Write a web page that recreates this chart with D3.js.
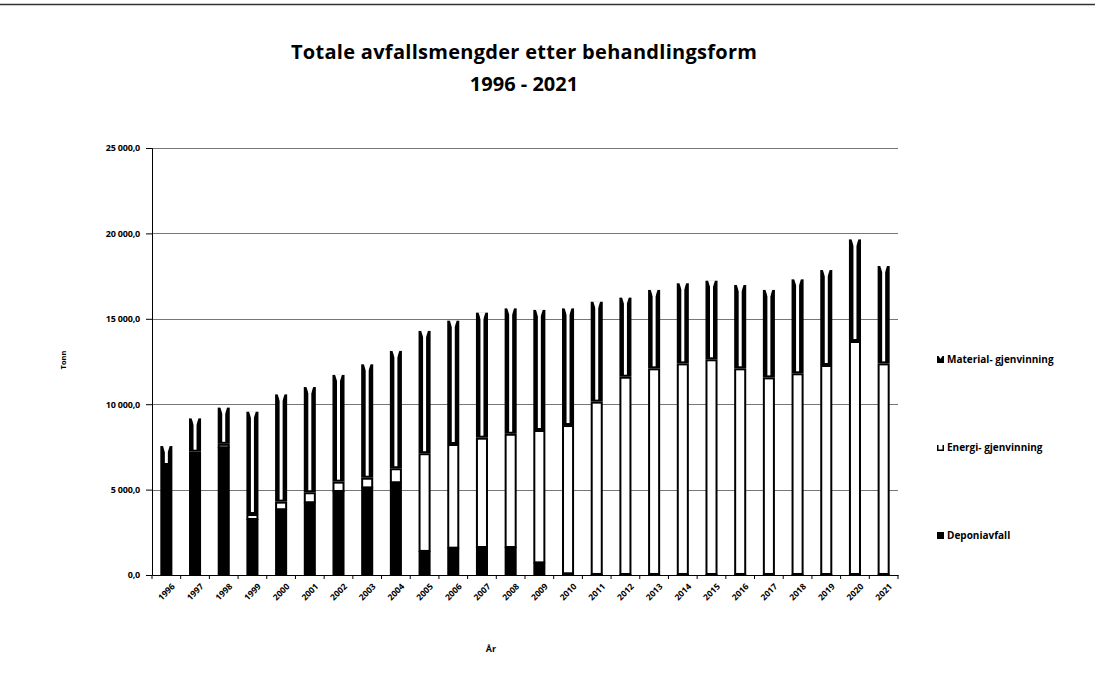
<!DOCTYPE html>
<html>
<head>
<meta charset="utf-8">
<script src="https://cdn.jsdelivr.net/npm/d3@7"></script>
<style>
  body { margin: 0; background: #fff; }
  text { font-family: "Open Sans", "DejaVu Sans", sans-serif; font-weight: bold; fill: #000; }
</style>
</head>
<body>
<div id="chart"></div>
<script>
const years = ["1996","1997","1998","1999","2000","2001","2002","2003","2004","2005","2006","2007","2008","2009","2010","2011","2012","2013","2014","2015","2016","2017","2018","2019","2020","2021"];
const deponiavfall = [6440,7220,7480,3280,3850,4260,4920,5130,5430,1410,1600,1640,1640,740,100,60,60,60,60,60,60,60,60,60,60,60];
const energigjenvinning = [0,0,200,290,445,585,545,565,820,5720,6070,6400,6630,7750,8680,10090,11550,12040,12330,12570,12040,11510,11750,12235,13640,12330];
const materialgjenvinning = [1110,1950,2120,5990,6280,6160,6250,6640,6870,7160,7220,7320,7340,7030,6830,5850,4630,4590,4690,4600,4880,5120,5500,5560,5950,5700];
const seriesNames = ["Deponiavfall", "Energi- gjenvinning", "Material- gjenvinning"];
const yTicks = [0, 5000, 10000, 15000, 20000, 25000];

const width = 1095, height = 683;
const margin = {left: 152, right: 197, top: 148, bottom: 108};

const svg = d3.select("#chart").append("svg")
    .attr("width", width)
    .attr("height", height);

// top rule
svg.append("line")
    .attr("x1", 0).attr("x2", width)
    .attr("y1", 4.5).attr("y2", 4.5)
    .attr("stroke", "#333").attr("stroke-width", 1.5);

const x = d3.scaleBand()
    .domain(years)
    .range([margin.left, width - margin.right])
    .paddingInner(0.58)
    .paddingOuter(0.29);

const y = d3.scaleLinear()
    .domain([0, 25000])
    .range([height - margin.bottom, margin.top]);

const nb = d3.formatLocale({decimal: ",", thousands: "\u00a0", grouping: [3], currency: ["", ""]});
const fmt = nb.format(",.1f");

// gridlines
svg.append("g")
    .selectAll("line")
    .data(yTicks.slice(1))
    .join("line")
    .attr("x1", margin.left).attr("x2", width - margin.right)
    .attr("y1", d => Math.round(y(d)) + 0.5).attr("y2", d => Math.round(y(d)) + 0.5)
    .attr("stroke", "#777").attr("stroke-width", 1);

const yAxis = d3.axisLeft(y)
    .tickValues(yTicks)
    .tickFormat(fmt)
    .tickSize(6)
    .tickPadding(6);

const gY = svg.append("g")
    .attr("transform", `translate(${margin.left},0)`)
    .call(yAxis);
gY.select(".domain").attr("stroke", "#000");
gY.selectAll(".tick line").attr("stroke", "#000");
gY.selectAll(".tick text").style("font-size", "9px").attr("letter-spacing", "-0.2");

const xAxis = d3.axisBottom(x).tickSize(0).tickSizeOuter(0);
const gX = svg.append("g")
    .attr("transform", `translate(0,${height - margin.bottom})`)
    .call(xAxis);
gX.select(".domain").attr("stroke", "#000");
gX.selectAll(".tick text")
    .style("font-size", "8.5px")
    .attr("text-anchor", "end")
    .attr("dy", 0)
    .attr("transform", "translate(7,10) rotate(-45)");

// ticks between categories
const step = x.step();
svg.append("g")
    .selectAll("line")
    .data(d3.range(years.length + 1))
    .join("line")
    .attr("x1", i => margin.left + i * step)
    .attr("x2", i => margin.left + i * step)
    .attr("y1", height - margin.bottom)
    .attr("y2", height - margin.bottom + 4)
    .attr("stroke", "#000");

// bars
const bw = x.bandwidth();
const bars = svg.append("g");
years.forEach((yr, i) => {
    const x0 = x(yr);
    const cx = x0 + bw / 2;
    const d0 = deponiavfall[i];
    const e1 = d0 + energigjenvinning[i];
    const m1 = e1 + materialgjenvinning[i];

    // Deponiavfall
    bars.append("rect")
        .attr("x", x0).attr("width", bw)
        .attr("y", y(d0)).attr("height", y(0) - y(d0))
        .attr("fill", "#000");

    // Energi- gjenvinning
    if (energigjenvinning[i] > 0) {
        bars.append("rect")
            .attr("x", x0 + 1).attr("width", bw - 2)
            .attr("y", y(e1) + 1).attr("height", Math.max(0, y(d0) - y(e1) - 1))
            .attr("fill", "#fff")
            .attr("stroke", "#000").attr("stroke-width", 2);
    }

    // Material- gjenvinning
    const top = y(m1), bot = y(e1);
    bars.append("rect")
        .attr("x", x0).attr("width", bw)
        .attr("y", top).attr("height", bot - top)
        .attr("fill", "#000");
    bars.append("rect")
        .attr("x", cx - 1.5).attr("width", 3)
        .attr("y", top + 4).attr("height", Math.max(0, bot - top - 6))
        .attr("fill", "#fff");
    bars.append("path")
        .attr("d", `M${x0 + 2.5},${top - 0.5} L${x0 + bw - 2.5},${top - 0.5} L${cx + 1.5},${top + 6} L${cx - 1.5},${top + 6} Z`)
        .attr("fill", "#fff");
});

// titles
svg.append("text")
    .attr("x", 524).attr("y", 59)
    .attr("text-anchor", "middle")
    .style("font-size", "20px")
    .attr("textLength", 466)
    .text("Totale avfallsmengder etter behandlingsform");
svg.append("text")
    .attr("x", 524).attr("y", 91)
    .attr("text-anchor", "middle")
    .style("font-size", "20px")
    .text("1996 - 2021");

svg.append("text")
    .attr("transform", "translate(66,360) rotate(-90)")
    .attr("text-anchor", "middle")
    .style("font-size", "7.5px")
    .text("Tonn");

svg.append("text")
    .attr("x", 491).attr("y", 652)
    .attr("text-anchor", "middle")
    .style("font-size", "9px")
    .text("År");

// legend
const legendItems = [
    {name: seriesNames[2], y: 359, type: "material"},
    {name: seriesNames[1], y: 447, type: "energi"},
    {name: seriesNames[0], y: 535, type: "deponi"}
];
const lg = svg.append("g");
legendItems.forEach(it => {
    const g = lg.append("g").attr("transform", `translate(937,${it.y})`);
    if (it.type === "deponi") {
        g.append("rect").attr("x", 0).attr("y", -3).attr("width", 7).attr("height", 7).attr("fill", "#000");
    } else if (it.type === "material") {
        g.append("path").attr("d", "M0,-3 L7,-3 L7,4 L0,4 Z").attr("fill", "#000");
        g.append("path").attr("d", "M1.5,-3 L5.5,-3 L3.5,0 Z").attr("fill", "#fff");
    } else {
        g.append("path").attr("d", "M0.75,-2 L0.75,3.25 L6.25,3.25 L6.25,-2")
            .attr("fill", "none").attr("stroke", "#000").attr("stroke-width", 1.5);
    }
    g.append("text")
        .attr("x", 10).attr("y", 3.5)
        .style("font-size", "10px")
        .text(it.name);
});
</script>
</body>
</html>
